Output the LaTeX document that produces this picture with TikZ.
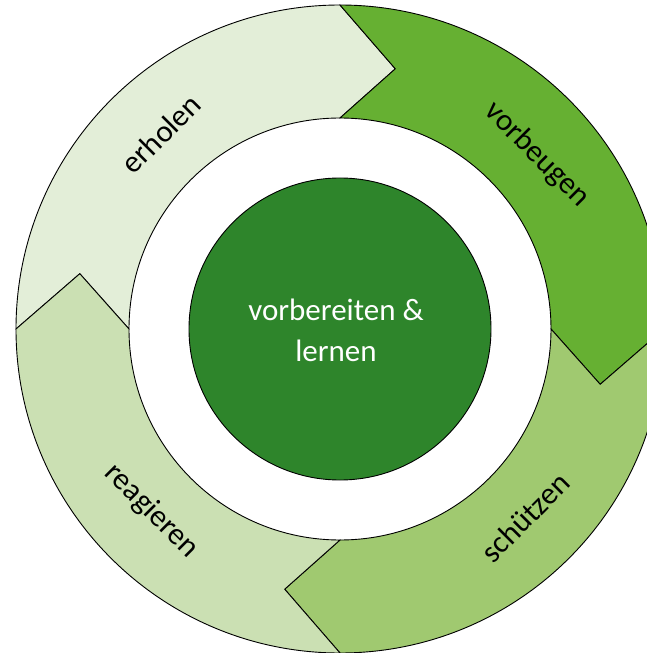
\documentclass[tikz,border=0pt]{standalone}
\usepackage{fontspec}
\setmainfont{Carlito}
\definecolor{cErholen}{HTML}{E3EED8}
\definecolor{cVorbeugen}{HTML}{66B032}
\definecolor{cSchuetzen}{HTML}{A0C970}
\definecolor{cReagieren}{HTML}{CBE0B3}
\definecolor{cCenter}{HTML}{2E852B}
\tikzset{
  seg/.style={draw=black, line width=0.9pt, line join=miter},
  lbl/.style={font=\fontsize{31}{41}\selectfont, text=black, inner sep=0pt},
}
\newcommand{\ringarrow}[2]{%
  \pgfmathsetmacro{\sA}{#1}\pgfmathsetmacro{\eA}{#1-90}%
  \pgfmathsetmacro{\tA}{#1-102}\pgfmathsetmacro{\nA}{#1-12}%
  \draw[seg, fill=#2] (\sA:324) arc[start angle=\sA, end angle=\eA, radius=324]
    -- (\tA:266) -- (\eA:211) arc[start angle=\eA, end angle=\sA, radius=211]
    -- (\nA:266) -- cycle;}
\begin{document}
\begin{tikzpicture}[x=1pt,y=1pt]
  \useasboundingbox (-340,-324) rectangle (307,329);
  \fill[white] (-340,-324) rectangle (307,329);
  \ringarrow{180}{cErholen}
  \ringarrow{90}{cVorbeugen}
  \ringarrow{0}{cSchuetzen}
  \ringarrow{270}{cReagieren}
  \node[circle, draw=black, line width=0.9pt, fill=cCenter, minimum size=302pt, inner sep=0pt] (core) at (0,0) {};
  \node[font=\fontsize{31}{41}\selectfont, text=white, align=center, inner sep=0pt] (coretext) at (-4,-1) {vorbereiten \&\\lernen};
  \node[lbl, rotate=45] (erholen) at (132.5:265) {erholen};
  \node[lbl, rotate=-45] (vorbeugen) at (41.5:263) {vorbeugen};
  \node[lbl, rotate=45] (schuetzen) at (-45.5:264) {schützen};
  \node[lbl, rotate=-45] (reagieren) at (224:262) {reagieren};
\end{tikzpicture}
\end{document}
